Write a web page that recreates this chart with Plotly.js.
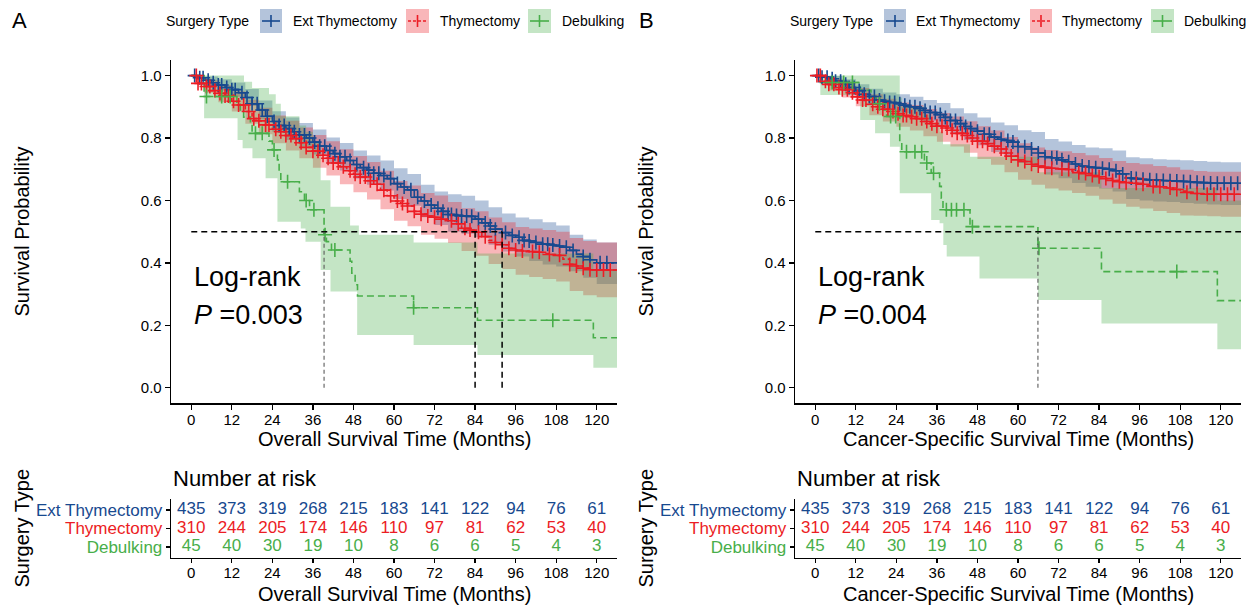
<!DOCTYPE html>
<html>
<head>
<meta charset="utf-8">
<script src="https://cdn.plot.ly/plotly-3.0.1.min.js"></script>
<style>
  html, body { margin: 0; padding: 0; background: #ffffff; }
  #chart { width: 1256px; height: 607px; }
</style>
</head>
<body>
<div id="chart"></div>
<script>
// ---------- shared categories and ticks ----------
const groupNames = ['Ext Thymectomy', 'Thymectomy', 'Debulking'];
const monthTicks = [0, 12, 24, 36, 48, 60, 72, 84, 96, 108, 120];
const survTicks = [0, 0.2, 0.4, 0.6, 0.8, 1.0];
const survTickText = ['0.0', '0.2', '0.4', '0.6', '0.8', '1.0'];

// time grids on which the large-group curves and their bands are tabulated (months)
const grid2 = [0, 2, 4, 6, 8, 10, 12, 14, 16, 18, 20, 22, 24, 26, 28, 30, 32, 34, 36, 38, 40,
  42, 44, 46, 48, 50, 52, 54, 56, 58, 60, 62, 64, 66, 68, 70, 72, 74, 76, 78, 80,
  82, 84, 86, 88, 90, 92, 94, 96, 98, 100, 102, 104, 106, 108, 110, 112, 114, 116, 118, 120];
const grid4 = [0, 4, 8, 12, 16, 20, 24, 28, 32, 36, 40, 44, 48, 52, 56, 60, 64, 68, 72, 76, 80,
  84, 88, 92, 96, 100, 104, 108, 112, 116, 120];
const followUpEnd = 128;

// ---------- A: overall survival ----------
const osExtSurv = [1, .993, .985, .977, .97, .962, .955, .945, .93, .91, .89, .87, .853, .84, .83, .82,
  .81, .80, .787, .774, .76, .75, .74, .728, .715, .705, .697, .687, .68, .67, .654, .643, .634, .61,
  .598, .585, .575, .565, .555, .552, .55, .549, .54, .528, .518, .508, .497, .488, .482, .472, .47,
  .465, .46, .457, .454, .45, .44, .428, .42, .41, .40];
const osExtLower = [1, .973, .952, .932, .903, .86, .82, .794, .772, .747, .718, .696, .67, .65, .632,
  .605, .583, .546, .521, .50, .493, .482, .458, .436, .42, .406, .395, .388, .373, .352, .332];
const osExtUpper = [1, .997, .988, .978, .957, .92, .886, .866, .848, .827, .802, .784, .76, .744, .728,
  .703, .685, .65, .629, .62, .615, .60, .578, .558, .545, .54, .53, .52, .49, .475, .465];
const osExtCensor = [1, 2.5, 3.5, 5, 6.5, 8, 9, 10.5, 12, 13, 15, 16.5, 18, 19.5, 21, 22.5, 24.5, 26,
  27.5, 29, 30.5, 32, 33.5, 35, 36.5, 38, 39.5, 41, 42.5, 44, 45.5, 47, 49, 51, 52.5, 54, 55.5, 57,
  59, 61, 63, 65, 67, 69, 71, 73, 74.5, 76, 77, 78.5, 80, 81.5, 83, 85, 87, 88.5, 90, 93, 95, 97,
  98.5, 100, 102, 104, 105.5, 107, 109, 111, 113, 116, 118, 121, 123];

const osThySurv = [1, .975, .965, .952, .943, .935, .918, .906, .885, .862, .855, .842, .828, .82,
  .808, .798, .785, .77, .758, .745, .735, .72, .708, .695, .684, .675, .663, .652, .633, .615, .598,
  .59, .582, .565, .556, .55, .546, .54, .535, .525, .511, .505, .498, .484, .472, .465, .458, .447,
  .441, .438, .436, .434, .43, .427, .424, .412, .395, .39, .383, .378, .377];
const osThyLower = [1, .945, .915, .885, .846, .812, .783, .76, .735, .705, .68, .652, .626, .603, .572,
  .535, .517, .49, .477, .464, .438, .423, .396, .38, .362, .355, .348, .34, .31, .296, .29];
const osThyUpper = [1, .985, .97, .95, .923, .897, .872, .855, .834, .81, .79, .764, .742, .723, .695,
  .662, .648, .624, .616, .595, .575, .565, .545, .53, .515, .51, .505, .50, .48, .47, .465];
const osThyCensor = [1.5, 2, 3, 4.5, 5.5, 7, 8.5, 10, 11, 12.5, 14, 15.5, 17, 18.5, 20, 22, 23, 25,
  26.5, 28, 29.5, 31, 32.5, 34, 36, 37.5, 39, 40.5, 42, 43.5, 45, 47, 48.5, 50, 51.5, 53, 55, 57, 59,
  61, 62.5, 64, 66, 68, 70, 72, 74, 77, 79, 81, 82.5, 85, 87, 90, 92, 94, 96, 98, 101, 103, 106, 109,
  112, 114, 116, 118, 120, 122, 124];

const osDebTime = [0, 3.8, 13.5, 14.5, 15.5, 17.5, 18, 23, 24, 25.5, 26, 26.5, 32, 33.5, 35, 39.3,
  40, 41.5, 47, 47.5, 48.5, 49.2, 65.8, 84.7, 119];
const osDebSurv = [1, .933, .911, .889, .867, .84, .815, .79, .762, .73, .695, .66, .628, .60, .57,
  .49, .468, .441, .405, .367, .33, .294, .256, .216, .16];
const osDebLowerTime = [0, 3.8, 13.7, 15.2, 18.1, 22, 25.5, 32.4, 33.8, 38.3, 41.2, 49.1, 65.8, 84.7, 119];
const osDebLower = [1, .863, .794, .767, .735, .671, .532, .51, .468, .377, .308, .169, .137, .105, .064];
const osDebUpperTime = [0, 3.8, 15.6, 18, 23, 25, 26.5, 32, 34, 36, 38.3, 41.2, 47, 49.6, 65.8, 84.7, 119];
const osDebUpper = [1, 1, .98, .96, .94, .91, .87, .84, .82, .79, .665, .58, .52, .49, .465, .43, .38];
const osDebCensor = [4.5, 9, 11.5, 19, 21, 24.5, 28.5, 34, 36.3, 39.6, 42.5, 65.8, 107];

const osRiskExt = [435, 373, 319, 268, 215, 183, 141, 122, 94, 76, 61];
const osRiskThy = [310, 244, 205, 174, 146, 110, 97, 81, 62, 53, 40];
const osRiskDeb = [45, 40, 30, 19, 10, 8, 6, 6, 5, 4, 3];

// ---------- B: cancer-specific survival ----------
const cssExtSurv = [1, .995, .99, .982, .972, .962, .952, .94, .933, .922, .918, .914, .91, .905, .90,
  .895, .888, .882, .875, .866, .856, .846, .837, .83, .822, .812, .803, .796, .792, .787, .773, .772,
  .765, .752, .74, .737, .73, .724, .717, .71, .707, .705, .703, .70, .695, .685, .672, .67, .668,
  .666, .665, .664, .663, .662, .661, .66, .658, .657, .656, .655, .655];
const cssExtLower = [1, .98, .955, .93, .907, .89, .879, .867, .853, .837, .816, .794, .777, .755, .742,
  .72, .71, .683, .671, .656, .644, .638, .629, .605, .60, .597, .595, .592, .589, .587, .585];
const cssExtUpper = [1, .999, .988, .972, .958, .946, .94, .932, .922, .912, .895, .879, .866, .85, .841,
  .825, .819, .797, .789, .778, .77, .767, .76, .738, .735, .732, .73, .729, .726, .724, .722];
const cssExtCensor = [1, 2, 3.5, 5, 6, 7.5, 9, 10, 11.5, 13, 14.5, 16, 17.5, 19, 20.5, 22, 23.5, 25,
  26.5, 28, 29.5, 31, 32.5, 34, 35.5, 37, 38.5, 40, 41.5, 43, 44.5, 46, 48, 50, 51.5, 53, 55, 57,
  58.5, 60, 62, 64, 66, 68, 70, 71.5, 73, 75, 77, 79, 81, 83, 85, 87, 89, 91, 93.5, 95, 97, 99, 101,
  103, 105, 107, 109, 111, 113, 115, 117, 119, 121, 123, 125];

const cssThySurv = [1, .982, .972, .962, .955, .945, .932, .922, .908, .90, .892, .885, .878, .872,
  .868, .862, .853, .846, .838, .832, .825, .815, .808, .80, .79, .782, .774, .765, .752, .742, .73,
  .725, .716, .71, .706, .703, .701, .699, .694, .689, .686, .68, .676, .67, .664, .66, .657, .655,
  .652, .648, .645, .644, .64, .635, .63, .626, .622, .621, .62, .62, .62];
const cssThyLower = [1, .952, .93, .902, .873, .853, .836, .824, .806, .788, .773, .753, .733, .714, .69,
  .666, .65, .638, .632, .624, .615, .603, .589, .58, .574, .566, .56, .552, .551, .549, .548];
const cssThyUpper = [1, .99, .978, .96, .94, .926, .914, .906, .893, .88, .869, .854, .838, .824, .803,
  .783, .77, .762, .758, .752, .745, .736, .726, .72, .716, .71, .706, .698, .694, .692, .692];
const cssThyCensor = [0.5, 1.5, 3, 4, 5.5, 7, 8, 9.5, 11, 12.5, 14, 15, 17, 18.5, 20, 21.5, 23, 24.5,
  26, 27, 28.5, 30, 31.5, 33, 34.5, 36, 37.5, 39, 40.5, 42, 43.5, 45, 46.5, 48, 49.5, 51, 53, 55,
  56.5, 58, 60, 62, 64, 66, 68, 70, 73, 75, 78, 80, 82, 84, 86, 88, 90, 92, 95, 97, 100, 102, 105,
  107, 110, 113, 116, 118, 120, 122, 124];

const cssDebTime = [0, 1.5, 13.3, 16.5, 18, 20, 21.1, 25, 25.6, 32.3, 34.3, 36.8, 37.3, 37.8, 45.8,
  65.9, 84.7, 119];
const cssDebSurv = [1, .978, .953, .93, .91, .89, .869, .79, .756, .72, .687, .645, .607, .57, .516,
  .447, .372, .279];
const cssDebLowerTime = [0, 1.5, 13.3, 17.7, 22.1, 25, 34.3, 36.8, 37.9, 38.9, 48.6, 65.9, 84.7, 119];
const cssDebLower = [1, .938, .858, .815, .772, .623, .537, .527, .457, .42, .35, .281, .206, .123];
const cssDebUpperTime = [0, 1.5, 25, 25.6, 32.3, 34.3, 36.8, 37.8, 45.8, 65.9, 84.7, 119];
const cssDebUpper = [1, 1, .93, .90, .875, .85, .82, .78, .74, .69, .64, .60];
const cssDebCensor = [5, 8.4, 11, 19, 22.3, 23.8, 27, 29.5, 31.5, 33, 35, 38.8, 40.3, 41.8, 44, 46.5,
  66.2, 107];

const cssRiskExt = [435, 373, 319, 268, 215, 183, 141, 122, 94, 76, 61];
const cssRiskThy = [310, 244, 205, 174, 146, 110, 97, 81, 62, 53, 40];
const cssRiskDeb = [45, 40, 30, 19, 10, 8, 6, 6, 5, 4, 3];

// ---------- styling ----------
const W = 1256, H = 607;
const FONT = '"Liberation Sans", Arial, Helvetica, sans-serif';
const X_RANGE = [-6, 126];
const Y_RANGE = [-0.05, 1.05];
const lineColors = ['#17498F', '#EC1C24', '#48AE4A'];
const bandColors = ['rgba(23,73,143,0.32)', 'rgba(236,28,36,0.32)', 'rgba(72,174,74,0.32)'];
const lineDash = ['solid', '4px,3px', '7px,4px'];
const medianLineColor = ['#000000', '#000000', '#5a5a5a'];

const px = x => x / W;
const py = y => 1 - y / H;

function stepAt(times, values, t) {
  let v = values[0];
  for (let i = 0; i < times.length; i++) {
    if (times[i] <= t) v = values[i]; else break;
  }
  return v;
}
function medianOf(times, surv) {
  for (let i = 0; i < times.length; i++) if (surv[i] <= 0.5) return times[i];
  return null;
}
function extend(times, values) {
  return { x: times.concat([followUpEnd]), y: values.concat([values[values.length - 1]]) };
}

const panels = [
  {
    letter: 'A', xa: 'x', ya: 'y', txa: 'x2', tya: 'y2', left: 171, right: 617,
    letterX: 11, yTitleX: 21, pValue: '0.003', xTitle: 'Overall Survival Time (Months)',
    legend: { titleX: 165, boxes: [[260, 282], [406, 429], [528, 551]], labels: [292, 439, 561] },
    groups: [
      { time: grid2, surv: osExtSurv, lowerTime: grid4, lower: osExtLower, upperTime: grid4, upper: osExtUpper, censor: osExtCensor, risk: osRiskExt },
      { time: grid2, surv: osThySurv, lowerTime: grid4, lower: osThyLower, upperTime: grid4, upper: osThyUpper, censor: osThyCensor, risk: osRiskThy },
      { time: osDebTime, surv: osDebSurv, lowerTime: osDebLowerTime, lower: osDebLower, upperTime: osDebUpperTime, upper: osDebUpper, censor: osDebCensor, risk: osRiskDeb }
    ]
  },
  {
    letter: 'B', xa: 'x3', ya: 'y3', txa: 'x4', tya: 'y4', left: 795, right: 1241,
    letterX: 638, yTitleX: 645, pValue: '0.004', xTitle: 'Cancer-Specific Survival Time (Months)',
    legend: { titleX: 789, boxes: [[884, 906], [1030, 1052], [1151, 1174]], labels: [915, 1061, 1183] },
    groups: [
      { time: grid2, surv: cssExtSurv, lowerTime: grid4, lower: cssExtLower, upperTime: grid4, upper: cssExtUpper, censor: cssExtCensor, risk: cssRiskExt },
      { time: grid2, surv: cssThySurv, lowerTime: grid4, lower: cssThyLower, upperTime: grid4, upper: cssThyUpper, censor: cssThyCensor, risk: cssRiskThy },
      { time: cssDebTime, surv: cssDebSurv, lowerTime: cssDebLowerTime, lower: cssDebLower, upperTime: cssDebUpperTime, upper: cssDebUpper, censor: cssDebCensor, risk: cssRiskDeb }
    ]
  }
];

const traces = [];
const annotations = [];
const shapes = [];
const layout = {
  width: W, height: H,
  margin: { l: 0, r: 0, t: 0, b: 0, pad: 0 },
  paper_bgcolor: '#ffffff', plot_bgcolor: 'rgba(0,0,0,0)',
  showlegend: false,
  font: { family: FONT, color: '#000000' }
};

function axisBase() {
  return {
    showline: true, linecolor: '#000000', linewidth: 1.3,
    ticks: 'outside', ticklen: 5, tickwidth: 1.3, tickcolor: '#000000',
    showgrid: false, zeroline: false, fixedrange: true,
    tickfont: { family: FONT, size: 15, color: '#000000' }
  };
}
const axisKey = id => id.replace('x', 'xaxis').replace('y', 'yaxis');

panels.forEach(p => {
  const xDom = [px(p.left), px(p.right)];

  // confidence bands: lower edge, then upper edge filled down to it
  p.groups.forEach((g, i) => {
    const lo = extend(g.lowerTime, g.lower);
    const hi = extend(g.upperTime, g.upper);
    traces.push({ type: 'scatter', mode: 'lines', x: lo.x, y: lo.y, xaxis: p.xa, yaxis: p.ya,
      line: { width: 0, shape: 'hv' }, hoverinfo: 'skip' });
    traces.push({ type: 'scatter', mode: 'lines', x: hi.x, y: hi.y, xaxis: p.xa, yaxis: p.ya,
      line: { width: 0, shape: 'hv' }, fill: 'tonexty', fillcolor: bandColors[i], hoverinfo: 'skip' });
  });

  // Kaplan-Meier step curves
  p.groups.forEach((g, i) => {
    const c = extend(g.time, g.surv);
    traces.push({ type: 'scatter', mode: 'lines', name: groupNames[i], x: c.x, y: c.y,
      xaxis: p.xa, yaxis: p.ya,
      line: { color: lineColors[i], width: 1.6, shape: 'hv', dash: lineDash[i] } });
  });

  // censoring ticks
  p.groups.forEach((g, i) => {
    traces.push({ type: 'scatter', mode: 'markers', x: g.censor,
      y: g.censor.map(t => stepAt(g.time, g.surv, t)), xaxis: p.xa, yaxis: p.ya,
      marker: { symbol: 'cross-thin', size: 10, color: lineColors[i], line: { width: 1.6, color: lineColors[i] } },
      hoverinfo: 'skip' });
  });

  // number-at-risk table
  p.groups.forEach((g, i) => {
    const row = 2 - i;
    traces.push({ type: 'scatter', mode: 'text', x: monthTicks, y: monthTicks.map(() => row),
      text: g.risk.map(String), xaxis: p.txa, yaxis: p.tya, cliponaxis: false,
      textfont: { family: FONT, size: 17, color: lineColors[i] }, hoverinfo: 'skip' });
  });

  // axes
  layout[axisKey(p.xa)] = Object.assign(axisBase(), {
    domain: xDom, range: X_RANGE, anchor: p.ya, tickvals: monthTicks, ticktext: monthTicks.map(String),
    ticklabelstandoff: -3
  });
  layout[axisKey(p.ya)] = Object.assign(axisBase(), {
    domain: [py(403.3), py(60)], range: Y_RANGE, anchor: p.xa, tickvals: survTicks, ticktext: survTickText
  });
  layout[axisKey(p.txa)] = Object.assign(axisBase(), {
    domain: xDom, range: X_RANGE, anchor: p.tya, tickvals: monthTicks, ticktext: monthTicks.map(String),
    ticklen: 4, ticklabelstandoff: -3
  });
  layout[axisKey(p.tya)] = Object.assign(axisBase(), {
    domain: [py(558), py(499)], range: [-0.6, 2.6], anchor: p.txa, tickvals: [0, 1, 2], ticklen: 4,
    ticktext: [2, 1, 0].map(i => '<span style="color:' + lineColors[i] + '">' + groupNames[i] + '</span>'),
    tickfont: { family: FONT, size: 17, color: '#000000' }
  });

  // median survival reference lines
  const medians = p.groups.map(g => medianOf(g.time, g.surv));
  const found = medians.filter(m => m !== null);
  const hEnd = found.length === medians.length ? Math.max(...found) : X_RANGE[1];
  shapes.push({ type: 'line', xref: p.xa, yref: p.ya, x0: 0, x1: hEnd, y0: 0.5, y1: 0.5,
    line: { color: '#000000', width: 1.5, dash: '6px,4px' } });
  medians.forEach((m, i) => {
    if (m === null) return;
    shapes.push({ type: 'line', xref: p.xa, yref: p.ya, x0: m, x1: m, y0: 0, y1: 0.5,
      line: { color: medianLineColor[i], width: i === 2 ? 1.1 : 1.5, dash: i === 2 ? '4px,3px' : '6px,4px' } });
  });

  // titles and labels
  const midX = (p.left + p.right) / 2;
  const ann = (o) => annotations.push(Object.assign({ showarrow: false, borderpad: 0 }, o));
  ann({ xref: 'paper', yref: 'paper', x: px(p.letterX), y: py(21), xanchor: 'left', yanchor: 'middle',
    text: p.letter, font: { family: FONT, size: 22, color: '#000000' } });
  ann({ xref: 'paper', yref: 'paper', x: px(p.yTitleX), y: py(231.5), xanchor: 'center', yanchor: 'middle',
    textangle: -90, text: 'Survival Probability', font: { family: FONT, size: 20, color: '#000000' } });
  ann({ xref: 'paper', yref: 'paper', x: px(midX), y: py(439), xanchor: 'center', yanchor: 'middle',
    text: p.xTitle, font: { family: FONT, size: 20, color: '#000000' } });
  ann({ xref: 'paper', yref: 'paper', x: px(p.yTitleX), y: py(528.5), xanchor: 'center', yanchor: 'middle',
    textangle: -90, text: 'Surgery Type', font: { family: FONT, size: 20, color: '#000000' } });
  ann({ xref: 'paper', yref: 'paper', x: px(midX), y: py(594), xanchor: 'center', yanchor: 'middle',
    text: p.xTitle, font: { family: FONT, size: 20, color: '#000000' } });
  ann({ xref: 'paper', yref: 'paper', x: px(p.left + 1), y: py(478), xanchor: 'left', yanchor: 'middle',
    text: 'Number at risk', font: { family: FONT, size: 22, color: '#000000' } });
  ann({ xref: p.xa, yref: p.ya, x: 0.5, y: 0.355, xanchor: 'left', yanchor: 'middle',
    text: 'Log-rank', font: { family: FONT, size: 27, color: '#000000' } });
  ann({ xref: p.xa, yref: p.ya, x: 0.5, y: 0.233, xanchor: 'left', yanchor: 'middle',
    text: '<i>P</i> =' + p.pValue, font: { family: FONT, size: 27, color: '#000000' } });

  // legend strip
  const lg = p.legend;
  ann({ xref: 'paper', yref: 'paper', x: px(lg.titleX), y: py(21), xanchor: 'left', yanchor: 'middle',
    text: 'Surgery Type', font: { family: FONT, size: 14, color: '#000000' } });
  groupNames.forEach((name, i) => {
    const [b0, b1] = lg.boxes[i];
    const cx = (b0 + b1) / 2;
    shapes.push({ type: 'rect', xref: 'paper', yref: 'paper', x0: px(b0), x1: px(b1), y0: py(33), y1: py(9),
      fillcolor: bandColors[i], line: { width: 0 } });
    shapes.push({ type: 'line', xref: 'paper', yref: 'paper', x0: px(b0 + 2), x1: px(b1 - 2), y0: py(21), y1: py(21),
      line: { color: lineColors[i], width: 1.6, dash: i === 1 ? '3px,2px' : 'solid' } });
    shapes.push({ type: 'line', xref: 'paper', yref: 'paper', x0: px(cx), x1: px(cx), y0: py(15), y1: py(27),
      line: { color: lineColors[i], width: 1.6 } });
    ann({ xref: 'paper', yref: 'paper', x: px(lg.labels[i]), y: py(21), xanchor: 'left', yanchor: 'middle',
      text: name, font: { family: FONT, size: 14, color: '#000000' } });
  });
});

layout.annotations = annotations;
layout.shapes = shapes;

Plotly.newPlot('chart', traces, layout, { staticPlot: true, displayModeBar: false });
</script>
</body>
</html>
